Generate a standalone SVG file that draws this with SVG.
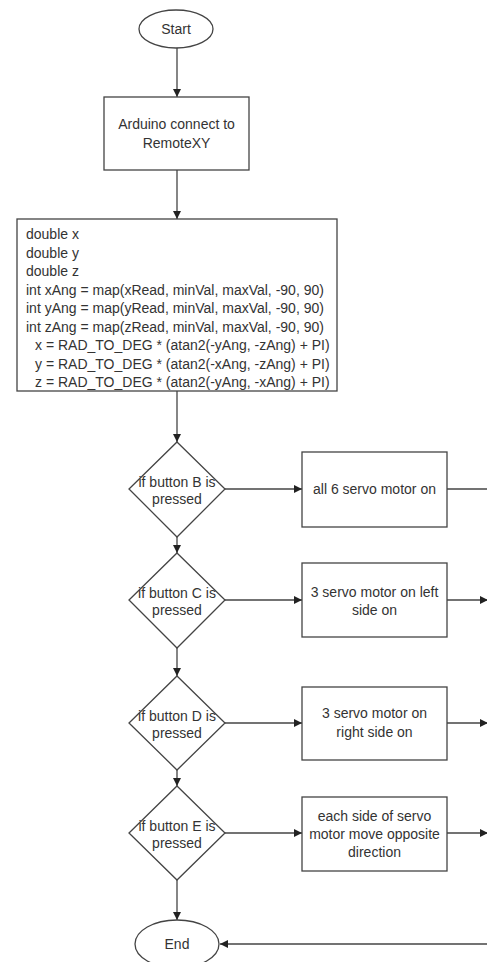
<svg xmlns="http://www.w3.org/2000/svg" width="487" height="962" viewBox="0 0 487 962">
<style>
.s{fill:#fff;stroke:#444;stroke-width:1.3}
.c{fill:none;stroke:#444;stroke-width:1.3}
text{font-family:"Liberation Sans",Arial,sans-serif;font-size:14px;fill:#333}
.m{text-anchor:middle}
</style>
<defs>
<marker id="a" viewBox="0 0 10 10" refX="10" refY="5" markerWidth="8" markerHeight="8" markerUnits="userSpaceOnUse" orient="auto">
<path d="M0,0 L10,5 L0,10 z" fill="#222"/>
</marker>
</defs>
<rect width="487" height="962" fill="#fff"/>
<g id="connectors">
<line class="c" x1="177" y1="48" x2="177" y2="97" marker-end="url(#a)"/>
<line class="c" x1="177" y1="170" x2="177" y2="219" marker-end="url(#a)"/>
<line class="c" x1="177" y1="391" x2="177" y2="442" marker-end="url(#a)"/>
<line class="c" x1="177" y1="537" x2="177" y2="553" marker-end="url(#a)"/>
<line class="c" x1="177" y1="648" x2="177" y2="676" marker-end="url(#a)"/>
<line class="c" x1="177" y1="770" x2="177" y2="786" marker-end="url(#a)"/>
<line class="c" x1="177" y1="880" x2="177" y2="920" marker-end="url(#a)"/>
<line class="c" x1="225" y1="489" x2="302" y2="489" marker-end="url(#a)"/>
<line class="c" x1="225" y1="600" x2="302" y2="600" marker-end="url(#a)"/>
<line class="c" x1="225" y1="723" x2="302" y2="723" marker-end="url(#a)"/>
<line class="c" x1="225" y1="833" x2="302" y2="833" marker-end="url(#a)"/>
<line class="c" x1="447" y1="489" x2="490" y2="489"/>
<line class="c" x1="447" y1="600" x2="488" y2="600" marker-end="url(#a)"/>
<line class="c" x1="447" y1="723" x2="488" y2="723" marker-end="url(#a)"/>
<line class="c" x1="447" y1="833" x2="488" y2="833" marker-end="url(#a)"/>
<line class="c" x1="490" y1="944" x2="220" y2="944" marker-end="url(#a)"/>
</g>
<g id="start">
<ellipse class="s" cx="176" cy="29" rx="37" ry="19"/>
<text class="m" x="176" y="34">Start</text>
</g>
<g id="connect">
<rect class="s" x="104" y="97" width="145" height="73"/>
<text class="m" x="176.5" y="129">Arduino connect to</text>
<text class="m" x="176.5" y="148">RemoteXY</text>
</g>
<g id="compute">
<rect class="s" x="17" y="219" width="320" height="172"/>
<text x="26" y="239">double x</text>
<text x="26" y="257.5">double y</text>
<text x="26" y="276">double z</text>
<text x="26" y="294.5">int xAng = map(xRead, minVal, maxVal, -90, 90)</text>
<text x="26" y="313">int yAng = map(yRead, minVal, maxVal, -90, 90)</text>
<text x="26" y="331.5">int zAng = map(zRead, minVal, maxVal, -90, 90)</text>
<text x="35" y="350">x = RAD_TO_DEG * (atan2(-yAng, -zAng) + PI)</text>
<text x="35" y="368.5">y = RAD_TO_DEG * (atan2(-xAng, -zAng) + PI)</text>
<text x="35" y="387">z = RAD_TO_DEG * (atan2(-yAng, -xAng) + PI)</text>
</g>
<g id="decB">
<polygon class="s" points="177,442 225,489 177,537 129,489"/>
<text class="m" x="177" y="487">if button B is</text>
<text class="m" x="177" y="504">pressed</text>
</g>
<g id="actB">
<rect class="s" x="302" y="452" width="145" height="75"/>
<text class="m" x="374.5" y="494">all 6 servo motor on</text>
</g>
<g id="decC">
<polygon class="s" points="177,553 225,600 177,648 129,600"/>
<text class="m" x="177" y="598">if button C is</text>
<text class="m" x="177" y="615">pressed</text>
</g>
<g id="actC">
<rect class="s" x="302" y="563" width="145" height="74"/>
<text class="m" x="374.5" y="597">3 servo motor on left</text>
<text class="m" x="374.5" y="615">side on</text>
</g>
<g id="decD">
<polygon class="s" points="177,676 225,723 177,770 129,723"/>
<text class="m" x="177" y="721">if button D is</text>
<text class="m" x="177" y="738">pressed</text>
</g>
<g id="actD">
<rect class="s" x="302" y="687" width="145" height="73"/>
<text class="m" x="374.5" y="718">3 servo motor on</text>
<text class="m" x="374.5" y="737">right side on</text>
</g>
<g id="decE">
<polygon class="s" points="177,786 225,833 177,880 129,833"/>
<text class="m" x="177" y="831">if button E is</text>
<text class="m" x="177" y="848">pressed</text>
</g>
<g id="actE">
<rect class="s" x="302" y="797" width="145" height="74"/>
<text class="m" x="374.5" y="821">each side of servo</text>
<text class="m" x="374.5" y="839">motor move opposite</text>
<text class="m" x="374.5" y="857">direction</text>
</g>
<g id="end">
<ellipse class="s" cx="177" cy="944" rx="42" ry="24"/>
<text class="m" x="177" y="949">End</text>
</g>
</svg>
